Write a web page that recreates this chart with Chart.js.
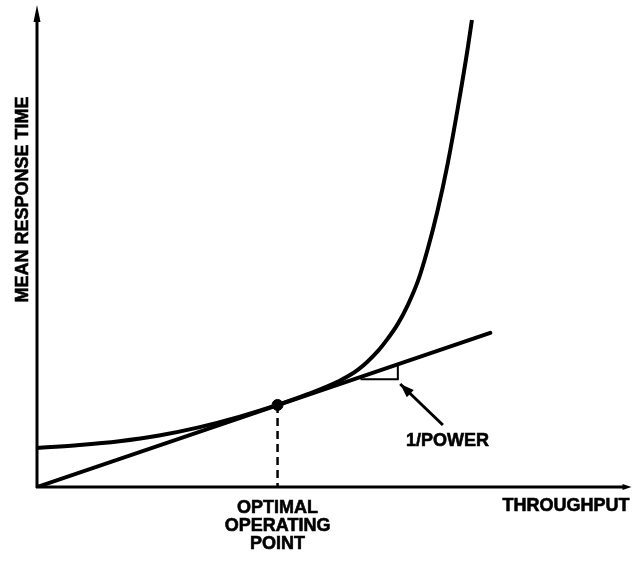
<!DOCTYPE html>
<html>
<head>
<meta charset="utf-8">
<script src="https://cdn.jsdelivr.net/npm/chart.js"></script>
<style>
body { margin: 0; background: #fff; }
#wrap { width: 636px; height: 562px; }
</style>
</head>
<body>
<div id="wrap"><canvas id="chart" width="636" height="562"></canvas></div>
<script>
// response time curve (throughput 0-100, response 0-100)
const throughput = [0, 7.2, 13.9, 20.6, 27.3, 34.1, 40.6, 45.8, 50.8, 54.2, 57.6, 59.2, 60.9, 62.6, 64.3, 65.9, 67.6, 69.3, 71.0, 72.7, 73.4];
const responseTime = [8.2, 8.8, 9.6, 10.8, 12.5, 14.7, 17.2, 19.5, 22.1, 24.6, 28.6, 31.1, 34.2, 38.2, 43.2, 49.7, 57.9, 67.7, 79.3, 92.0, 97.9];

// tangent through origin
const tangentX = [0, 76.5];
const tangentY = [0, 32.3];

// optimal operating point
const optimal = [40.6, 17.2];

// small slope triangle
const triX = [54.6, 60.9, 60.9];
const triY = [22.6, 22.6, 25.4];

// pointer arrow for 1/POWER (tail, head)
const arrowX = [68.5, 61.3];
const arrowY = [13.0, 21.6];

const xLabel = "THROUGHPUT";
const yLabel = "MEAN RESPONSE TIME";
const optimalLabel = ["OPTIMAL", "OPERATING", "POINT"];
const powerLabel = "1/POWER";

const FONT = "bold 18px 'Liberation Sans', Arial, sans-serif";

function pts(xs, ys) {
  return xs.map((x, i) => ({ x: x, y: ys[i] }));
}

function heavyText(ctx, t, x, y) {
  ctx.fillText(t, x, y);
  ctx.strokeText(t, x, y);
}

const annotations = {
  id: "annotations",
  afterDatasetsDraw(chart) {
    const ctx = chart.ctx;
    const x = chart.scales.x, y = chart.scales.y;
    const x0 = x.getPixelForValue(0), y0 = y.getPixelForValue(0);
    const xEnd = x.getPixelForValue(100), yEnd = y.getPixelForValue(100);

    ctx.save();
    ctx.strokeStyle = "#000";
    ctx.fillStyle = "#000";
    ctx.lineWidth = 3;
    ctx.lineCap = "butt";

    // axes
    ctx.beginPath();
    ctx.moveTo(x0, y0 + 1);
    ctx.lineTo(x0, yEnd + 8);
    ctx.moveTo(x0 - 1, y0);
    ctx.lineTo(xEnd - 4, y0);
    ctx.stroke();

    // y arrowhead
    ctx.beginPath();
    ctx.moveTo(x0, yEnd - 5);
    ctx.lineTo(x0 - 3.5, yEnd + 12);
    ctx.lineTo(x0 + 3.5, yEnd + 12);
    ctx.closePath();
    ctx.fill();

    // x end
    ctx.beginPath();
    ctx.moveTo(xEnd + 2, y0);
    ctx.lineTo(xEnd - 7, y0 - 3);
    ctx.lineTo(xEnd - 7, y0 + 3);
    ctx.closePath();
    ctx.fill();

    // arrowhead of 1/POWER pointer
    const hx = x.getPixelForValue(arrowX[1]), hy = y.getPixelForValue(arrowY[1]);
    const tx = x.getPixelForValue(arrowX[0]), ty = y.getPixelForValue(arrowY[0]);
    const ang = Math.atan2(hy - ty, hx - tx);
    ctx.beginPath();
    ctx.moveTo(hx, hy);
    ctx.lineTo(hx - 14 * Math.cos(ang) + 5 * Math.sin(ang), hy - 14 * Math.sin(ang) - 5 * Math.cos(ang));
    ctx.lineTo(hx - 14 * Math.cos(ang) - 5 * Math.sin(ang), hy - 14 * Math.sin(ang) + 5 * Math.cos(ang));
    ctx.closePath();
    ctx.fill();

    // texts
    ctx.font = FONT;
    ctx.lineWidth = 0.6;
    ctx.textBaseline = "middle";
    ctx.textAlign = "right";
    heavyText(ctx, xLabel, xEnd, y0 + 19);

    ctx.textAlign = "center";
    const ox = x.getPixelForValue(optimal[0]);
    optimalLabel.forEach((t, i) => heavyText(ctx, t, ox, y0 + 21 + i * 18));

    heavyText(ctx, powerLabel, x.getPixelForValue(69.3), y0 - 46);

    ctx.translate(x0 - 14, (y0 + yEnd) / 2 - 49);
    ctx.rotate(-Math.PI / 2);
    heavyText(ctx, yLabel, 0, 0);
    ctx.restore();
  }
};

new Chart(document.getElementById("chart"), {
  type: "scatter",
  data: {
    datasets: [
      {
        data: pts(throughput, responseTime),
        showLine: true,
        borderColor: "#000",
        borderWidth: 4,
        pointRadius: 0,
        cubicInterpolationMode: "monotone"
      },
      {
        data: pts(tangentX, tangentY),
        showLine: true,
        borderColor: "#000",
        borderWidth: 4,
        pointRadius: 0,
        borderCapStyle: "round"
      },
      {
        data: [{ x: optimal[0], y: optimal[1] }, { x: optimal[0], y: 0 }],
        showLine: true,
        borderColor: "#000",
        borderWidth: 2.5,
        borderDash: [8, 5],
        pointRadius: 0
      },
      {
        data: [{ x: optimal[0], y: optimal[1] }],
        pointRadius: 5.5,
        pointBackgroundColor: "#000",
        pointBorderColor: "#000"
      },
      {
        data: pts(triX, triY),
        showLine: true,
        borderColor: "#000",
        borderWidth: 2,
        pointRadius: 0
      },
      {
        data: pts(arrowX, arrowY),
        showLine: true,
        borderColor: "#000",
        borderWidth: 3,
        pointRadius: 0
      }
    ]
  },
  options: {
    responsive: false,
    animation: false,
    devicePixelRatio: 1,
    layout: { padding: { left: 37, top: 10, right: 3, bottom: 75 } },
    plugins: { legend: { display: false }, tooltip: { enabled: false } },
    scales: {
      x: { type: "linear", min: 0, max: 100, display: false },
      y: { type: "linear", min: 0, max: 100, display: false }
    }
  },
  plugins: [annotations]
});
</script>
</body>
</html>
